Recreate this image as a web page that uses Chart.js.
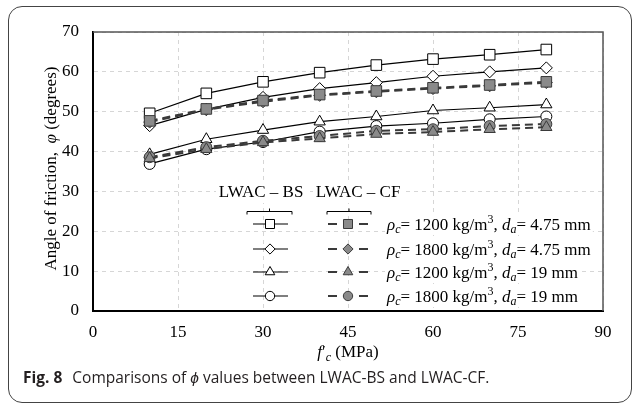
<!DOCTYPE html>
<html>
<head>
<meta charset="utf-8">
<script src="https://cdn.jsdelivr.net/npm/chart.js@4.4.0/dist/chart.umd.min.js"></script>
<style>
  body { margin: 0; background: #fff; }
  #wrap { position: relative; width: 635px; height: 408px; overflow: hidden; }
  #frame { position: absolute; left: 8px; top: 6px; width: 624px; height: 397px; box-sizing: border-box;
           border: 1.5px solid #444; border-radius: 14px; }
  #caption { position: absolute; left: 23px; top: 366px; font-family: "Open Sans", sans-serif; font-size: 15.5px;
             color: #231f20; white-space: nowrap; }
  #caption b { font-weight: 700; margin-right: 6px; }
  canvas { position: absolute; left: 0; top: 0; }
</style>
</head>
<body>
<div id="wrap">
  <div id="frame"></div>
  <canvas id="chart" width="635" height="408"></canvas>
  <div id="caption"><b>Fig. 8</b> Comparisons of <i>ϕ</i> values between LWAC-BS and LWAC-CF.</div>
</div>
<script>
// compressive strength f'c (MPa)
const strength = [10, 20, 30, 40, 50, 60, 70, 80];

// LWAC-BS
const bs1200_475 = [49.6, 54.6, 57.5, 59.8, 61.7, 63.2, 64.3, 65.6];
const bs1800_475 = [46.5, 50.6, 53.6, 55.8, 57.3, 58.9, 60.0, 61.0];
const bs1200_19  = [39.3, 43.1, 45.4, 47.5, 48.8, 50.3, 51.0, 51.8];
const bs1800_19  = [36.9, 40.6, 42.4, 45.0, 46.4, 47.1, 48.1, 48.8];

// LWAC-CF
const cf1200_475 = [47.7, 50.7, 52.8, 54.3, 55.2, 56.0, 56.7, 57.5];
const cf1800_475 = [47.4, 50.5, 52.5, 54.1, 55.0, 55.8, 56.5, 57.3];
const cf1200_19  = [38.3, 40.6, 42.3, 43.3, 44.4, 44.9, 45.6, 46.1];
const cf1800_19  = [38.6, 41.1, 42.7, 43.9, 45.2, 45.6, 46.4, 46.9];

const xTicks = [0, 15, 30, 45, 60, 75, 90];
const yTicks = [0, 10, 20, 30, 40, 50, 60, 70];

// legend rows
const densities  = ['1200', '1800', '1200', '1800'];
const aggregates = ['4.75', '4.75', '19', '19'];
const markers    = ['rect', 'rectRot', 'triangle', 'circle'];
const markerSize = { rect: 7.5, rectRot: 6, triangle: 6.5, circle: 5.5 };

const SERIF = '"Liberation Serif", "Times New Roman", serif';
const CF_FILL = '#8a8a8a';
const CF_EDGE = '#3a3a3a';

function pts(arr) {
    return arr.map((v, i) => ({ x: strength[i], y: v }));
}

function bsSet(label, data, style) {
    return {
        label: label, data: pts(data), order: 2,
        borderColor: '#000', borderWidth: 1.2,
        pointStyle: style, pointRadius: markerSize[style],
        pointBackgroundColor: '#fff', pointBorderColor: '#000', pointBorderWidth: 1
    };
}

function cfSet(label, data, style) {
    return {
        label: label, data: pts(data), order: 1,
        borderColor: CF_EDGE, borderWidth: 2, borderDash: [8, 5],
        pointStyle: style, pointRadius: markerSize[style],
        pointBackgroundColor: CF_FILL, pointBorderColor: CF_EDGE, pointBorderWidth: 1
    };
}

// rich text: runs of {t, it, sub, sup}
function runFont(r, size) {
    const fs = (r.sub || r.sup) ? Math.round(size * 0.68) : size;
    return (r.it ? 'italic ' : '') + fs + 'px ' + SERIF;
}
function runsWidth(ctx, runs, size) {
    let w = 0;
    runs.forEach(r => { ctx.font = runFont(r, size); w += ctx.measureText(r.t).width; });
    return w;
}
function drawRuns(ctx, runs, x, y, size) {
    let cx = x;
    ctx.textAlign = 'left';
    ctx.textBaseline = 'alphabetic';
    runs.forEach(r => {
        ctx.font = runFont(r, size);
        const dy = r.sub ? size * 0.22 : (r.sup ? -size * 0.36 : 0);
        ctx.fillText(r.t, cx, y + dy);
        cx += ctx.measureText(r.t).width;
    });
}

function legendRuns(i) {
    return [
        { t: 'ρ', it: 1 }, { t: 'c', it: 1, sub: 1 }, { t: '= ' + densities[i] + ' kg/m' }, { t: '3', sup: 1 },
        { t: ', ' }, { t: 'd', it: 1 }, { t: 'a', it: 1, sub: 1 }, { t: '= ' + aggregates[i] + ' mm' }
    ];
}

function bracket(ctx, x1, x2, y) {
    ctx.beginPath();
    ctx.moveTo(x1, y + 3); ctx.lineTo(x1, y); ctx.lineTo(x2, y); ctx.lineTo(x2, y + 3);
    const m = (x1 + x2) / 2;
    ctx.moveTo(m, y); ctx.lineTo(m, y - 3);
    ctx.stroke();
}

const extras = {
    id: 'extras',
    beforeDatasetsDraw(chart) {
        const { ctx, chartArea: a } = chart;
        ctx.save();
        ctx.strokeStyle = '#555';
        ctx.lineWidth = 1.5;
        ctx.beginPath();
        ctx.moveTo(a.left, a.top); ctx.lineTo(a.right, a.top); ctx.lineTo(a.right, a.bottom);
        ctx.stroke();
        ctx.restore();
    },
    afterDraw(chart) {
        const { ctx, chartArea: a } = chart;
        ctx.save();
        ctx.fillStyle = '#000';
        ctx.strokeStyle = '#000';

        // axis titles
        const xt = [{ t: 'f', it: 1 }, { t: '\u2032' }, { t: 'c', it: 1, sub: 1 }, { t: ' (MPa)' }];
        const xw = runsWidth(ctx, xt, 17);
        drawRuns(ctx, xt, (a.left + a.right) / 2 - xw / 2, 357, 17);

        const yt = [{ t: 'Angle of friction,  ' }, { t: 'φ', it: 1 }, { t: ' (degrees)' }];
        const yw = runsWidth(ctx, yt, 17);
        ctx.save();
        ctx.translate(56, (a.top + a.bottom) / 2 - 3);
        ctx.rotate(-Math.PI / 2);
        drawRuns(ctx, yt, -yw / 2, 0, 17);
        ctx.restore();

        // legend block
        const bsX = 270, cfX = 348, textX = 387;
        const rowY = [224, 249, 272, 296];
        ctx.font = '17px ' + SERIF;
        ctx.textBaseline = 'middle';
        ctx.textAlign = 'center';
        ctx.fillStyle = '#fff';
        ctx.fillRect(216, 183, 92, 20);
        ctx.fillRect(313, 183, 90, 20);
        ctx.fillStyle = '#000';
        ctx.fillText('LWAC – BS', 261, 193);
        ctx.fillText('LWAC – CF', 358, 193);
        ctx.lineWidth = 1;
        bracket(ctx, 247, 292, 211.5);
        bracket(ctx, 327, 371, 211.5);

        rowY.forEach((y, i) => {
            const st = markers[i];
            // BS sample
            ctx.setLineDash([]);
            ctx.strokeStyle = '#000';
            ctx.lineWidth = 1.2;
            ctx.beginPath(); ctx.moveTo(bsX - 17, y); ctx.lineTo(bsX + 18, y); ctx.stroke();
            ctx.fillStyle = '#fff';
            ctx.lineWidth = 1;
            Chart.helpers.drawPoint(ctx, { pointStyle: st, radius: markerSize[st] * 0.85, borderWidth: 1 }, bsX, y);
            // CF sample
            ctx.strokeStyle = CF_EDGE;
            ctx.lineWidth = 2;
            ctx.beginPath();
            ctx.moveTo(cfX - 20, y); ctx.lineTo(cfX - 11, y);
            ctx.moveTo(cfX + 11, y); ctx.lineTo(cfX + 20, y);
            ctx.stroke();
            ctx.fillStyle = CF_FILL;
            ctx.lineWidth = 1;
            Chart.helpers.drawPoint(ctx, { pointStyle: st, radius: markerSize[st] * 0.85, borderWidth: 1 }, cfX, y);
            // label
            const runs = legendRuns(i);
            const w = runsWidth(ctx, runs, 17);
            ctx.fillStyle = '#fff';
            ctx.fillRect(textX - 2, y - 10, w + 4, 21);
            ctx.fillStyle = '#000';
            drawRuns(ctx, runs, textX, y + 5.5, 17);
        });
        ctx.restore();
    }
};

new Chart(document.getElementById('chart'), {
    type: 'scatter',
    data: {
        datasets: [
            cfSet('LWAC-CF 1200 4.75', cf1200_475, 'rect'),
            cfSet('LWAC-CF 1800 4.75', cf1800_475, 'rectRot'),
            cfSet('LWAC-CF 1200 19', cf1200_19, 'triangle'),
            cfSet('LWAC-CF 1800 19', cf1800_19, 'circle'),
            bsSet('LWAC-BS 1200 4.75', bs1200_475, 'rect'),
            bsSet('LWAC-BS 1800 4.75', bs1800_475, 'rectRot'),
            bsSet('LWAC-BS 1200 19', bs1200_19, 'triangle'),
            bsSet('LWAC-BS 1800 19', bs1800_19, 'circle')
        ]
    },
    options: {
        responsive: false,
        animation: false,
        devicePixelRatio: 1,
        showLine: true,
        layout: { padding: { left: 0, top: 32, right: 32, bottom: 0 } },
        plugins: { legend: { display: false }, tooltip: { enabled: false } },
        scales: {
            x: {
                type: 'linear', min: 0, max: 90,
                afterBuildTicks: s => { s.ticks = xTicks.map(v => ({ value: v })); },
                afterFit: s => { s.height = 97; },
                ticks: { color: '#000', padding: 11, font: { family: SERIF, size: 17 } },
                grid: { color: '#d6d6d6', drawTicks: false },
                border: { color: '#000', width: 2, dash: [4, 4] }
            },
            y: {
                min: 0, max: 70,
                afterBuildTicks: s => { s.ticks = yTicks.map(v => ({ value: v })); },
                afterFit: s => { s.width = 93; },
                ticks: { color: '#000', padding: 14, font: { family: SERIF, size: 17 } },
                grid: { color: '#d6d6d6', drawTicks: false },
                border: { color: '#000', width: 2, dash: [4, 4] }
            }
        }
    },
    plugins: [extras]
});
</script>
</body>
</html>
